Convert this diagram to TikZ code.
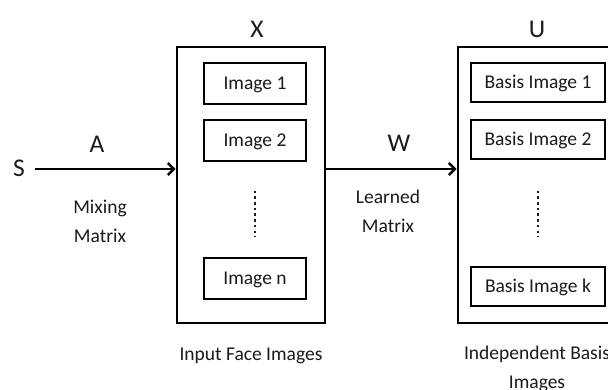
\documentclass[tikz,border=0pt]{standalone}
\usepackage{fontspec}
\setmainfont{Carlito}
\usetikzlibrary{arrows.meta,positioning}
\definecolor{icaInk}{HTML}{1A1A1A}
\tikzset{
  % Outer frame holding a stack of images.
  ica/frame/.style={draw=black, line width=2.6pt, fill=white, inner sep=0pt},
  % One image slot inside a frame.
  ica/slot/.style={
    draw=black, line width=1.3pt, fill=white, inner sep=0pt,
    text height=12.5pt, text depth=0pt, text=icaInk,
    font=\fontsize{19.5}{22}\selectfont
  },
  % Matrix symbols and the source letter.
  ica/sym/.style={font=\fontsize{25.5}{28}\selectfont, inner sep=1pt, anchor=base, text=icaInk},
  % Captions under arrows and frames (anchored on the last line).
  ica/note/.style={font=\fontsize{19.5}{29}\selectfont, align=center, inner sep=1pt,
    anchor=base, text=icaInk},
  ica/arrow/.style={-{Straight Barb[length=6pt,width=12pt]}, line width=2.6pt},
  ica/dots/.style={dash pattern=on 2.5pt off 3.2pt, line width=1.4pt, draw=icaInk},
}

\begin{document}
\begin{tikzpicture}[x=1pt,y=-1pt]
  \useasboundingbox (0,0) rectangle (608,389);

  % frames
  \node[ica/frame, minimum width=148, minimum height=276] (xbox) at (251,185) {};
  \node[ica/frame, minimum width=160, minimum height=276] (ubox) at (538,185) {};

  % input images
  \node[ica/slot, minimum width=102, minimum height=41] (img1) at (255,83.5)  {Image 1};
  \node[ica/slot, minimum width=102, minimum height=41] (img2) at (255,140.5) {Image 2};
  \node[ica/slot, minimum width=102, minimum height=41] (imgn) at (255,278.5) {Image n};
  \draw[ica/dots] ([yshift=-29pt]img2.south) -- ([yshift=20pt]imgn.north);

  % basis images
  \node[ica/slot, minimum width=134, minimum height=39] (bas1) at (538,82.5)  {Basis Image 1};
  \node[ica/slot, minimum width=134, minimum height=39] (bas2) at (538,139.5) {Basis Image 2};
  \node[ica/slot, minimum width=134, minimum height=39] (bask) at (538,286.5) {Basis Image k};
  \draw[ica/dots] ([yshift=-31pt]bas2.south) -- ([yshift=29pt]bask.north);

  % symbols
  \node[ica/sym] (s)    at (19,176) {S};
  \node[ica/sym] (xlab) at (257,37) {X};
  \node[ica/sym] (ulab) at (537,37) {U};
  \node[ica/sym] (alab) at (97,152) {A};
  \node[ica/sym] (wlab) at (399,151) {W};

  % mixing and unmixing
  \draw[ica/arrow, shorten <=9pt] (s.east |- 0,169) -- (xbox.west |- 0,169);
  \draw[ica/arrow] (xbox.east |- 0,169) -- (ubox.west |- 0,169);

  \node[ica/note] (mix)   at (100,242) {Mixing\\Matrix};
  \node[ica/note] (learn) at (388,232) {Learned\\Matrix};
  \node[ica/note] (inp)   at (251,360) {Input Face Images};
  \node[ica/note] (indep) at (537,388) {Independent Basis\\Images};
\end{tikzpicture}
\end{document}
